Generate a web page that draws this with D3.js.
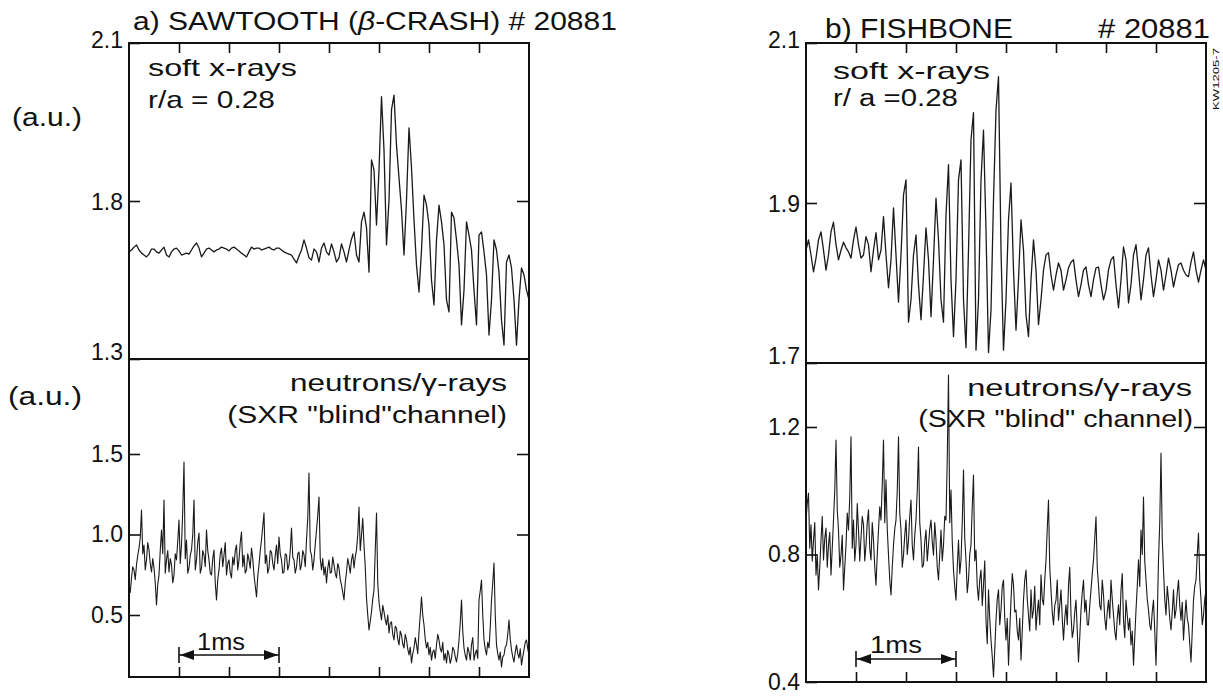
<!DOCTYPE html>
<html><head><meta charset="utf-8">
<script src="https://cdn.jsdelivr.net/npm/d3@7"></script>
<style>
body{margin:0;background:#fff}
svg{display:block}
text{font-family:"Liberation Sans",Arial,Helvetica,sans-serif;fill:#111}
</style>
</head><body>
<svg id="c" width="1223" height="697"></svg>
<script>
// ---------------- DATA ----------------
const sxrStep = 0.025;               // ms between soft x-ray samples
const neutStep = 0.0125;             // ms between neutron samples
const timeTicks = [0.5,1,1.5,2,2.5,3,3.5];
const scaleBar = [0.5,1.5];          // "1ms" bar, ms

// a) sawtooth: soft x-ray signal, r/a = 0.28 (a.u.)
const sxrSawtooth = [
1.639,1.645,1.654,1.661,1.645,1.635,1.629,1.623,1.632,1.648,
1.648,1.639,1.635,1.645,1.654,1.629,1.623,1.639,1.648,1.651,
1.642,1.629,1.632,1.635,1.632,1.645,1.658,1.667,1.651,1.623,
1.635,1.648,1.651,1.645,1.639,1.645,1.648,1.654,1.651,1.648,
1.642,1.651,1.654,1.648,1.642,1.635,1.629,1.623,1.639,1.654,
1.648,1.651,1.651,1.645,1.648,1.651,1.654,1.648,1.645,1.651,
1.651,1.645,1.639,1.635,1.632,1.629,1.616,1.604,1.626,1.645,
1.677,1.651,1.620,1.613,1.648,1.639,1.607,1.651,1.667,1.639,
1.629,1.664,1.639,1.607,1.620,1.664,1.639,1.607,1.645,1.680,
1.702,1.629,1.607,1.734,1.765,1.715,1.575,1.878,1.859,1.724,
1.859,1.998,1.897,1.661,1.802,1.973,2.001,1.906,1.844,1.772,
1.629,1.802,1.939,1.863,1.740,1.597,1.512,1.645,1.811,1.787,
1.724,1.550,1.471,1.677,1.787,1.734,1.661,1.487,1.449,1.765,
1.746,1.677,1.597,1.408,1.518,1.734,1.692,1.645,1.518,1.408,
1.692,1.702,1.639,1.566,1.376,1.487,1.677,1.645,1.575,1.423,
1.344,1.607,1.629,1.588,1.487,1.344,1.487,1.588,1.566,1.518,
1.487];

// a) sawtooth: neutrons / gamma-rays (SXR "blind" channel)
const neutSawtooth = [
0.686,0.640,0.730,0.800,0.780,0.720,0.811,0.870,0.916,0.980,1.152,0.880,0.935,0.780,0.842,0.950,0.904,0.820,0.767,0.850,
0.792,0.700,0.562,0.690,0.748,0.900,1.028,0.880,1.214,0.760,0.842,0.900,0.767,0.850,0.811,0.700,0.748,0.880,0.842,0.960,
1.090,0.820,0.935,1.150,1.450,0.850,0.966,0.760,0.792,0.870,0.904,1.000,1.214,0.780,0.842,0.950,1.009,0.760,0.792,0.900,
0.873,0.800,1.028,0.900,0.842,0.760,0.748,0.850,0.904,0.700,0.593,0.720,0.780,0.880,0.916,0.800,0.873,0.950,0.748,0.820,
0.842,0.760,0.730,0.860,0.811,0.900,0.935,0.780,0.842,0.950,1.016,0.800,0.873,0.760,0.780,0.880,0.842,0.790,0.916,0.850,
0.748,0.680,0.612,0.740,0.811,0.900,0.966,1.050,1.134,0.820,0.873,0.760,0.792,0.900,0.891,0.820,0.780,0.870,0.935,0.820,
0.984,0.880,0.842,0.760,0.767,0.880,0.873,0.780,0.811,0.900,1.040,0.860,0.842,0.760,0.798,0.880,0.891,0.780,0.811,0.900,
0.873,0.800,0.966,1.100,1.382,0.900,0.873,0.780,0.842,0.940,1.028,1.120,1.233,0.850,0.780,0.850,0.748,0.800,0.699,0.790,
0.842,0.760,0.767,0.860,0.811,0.760,0.730,0.820,0.792,0.720,0.686,0.640,0.593,0.700,0.767,0.850,0.811,0.760,0.842,0.880,
0.792,0.860,0.904,1.000,1.171,0.900,0.997,1.100,0.935,0.800,0.606,0.500,0.407,0.460,0.519,0.600,0.655,0.900,1.134,0.700,
0.581,0.520,0.469,0.560,0.519,0.470,0.438,0.500,0.388,0.450,0.457,0.380,0.345,0.430,0.419,0.350,0.314,0.400,0.376,0.320,
0.295,0.380,0.345,0.290,0.252,0.300,0.202,0.260,0.295,0.360,0.314,0.260,0.394,0.500,0.612,0.500,0.438,0.350,0.295,0.330,
0.252,0.300,0.220,0.270,0.283,0.230,0.314,0.380,0.345,0.290,0.270,0.330,0.220,0.260,0.202,0.280,0.252,0.200,0.233,0.300,
0.283,0.240,0.208,0.260,0.345,0.450,0.593,0.400,0.295,0.250,0.220,0.300,0.270,0.220,0.314,0.360,0.220,0.260,0.283,0.230,
0.593,0.650,0.717,0.500,0.345,0.290,0.252,0.330,0.295,0.420,0.593,0.700,0.823,0.500,0.314,0.260,0.220,0.270,0.177,0.240,
0.252,0.300,0.314,0.380,0.469,0.350,0.283,0.240,0.208,0.270,0.314,0.260,0.233,0.290,0.189,0.240,0.283,0.330,0.345,0.290,
0.252];

// b) fishbone: soft x-ray signal, r/a = 0.28 (a.u.)
const sxrFishbone = [
1.841,1.854,1.835,1.814,1.831,1.854,1.864,1.841,1.816,1.835,
1.864,1.876,1.848,1.829,1.841,1.851,1.844,1.839,1.831,1.854,
1.870,1.848,1.831,1.835,1.858,1.848,1.814,1.841,1.863,1.829,
1.841,1.883,1.835,1.794,1.829,1.894,1.835,1.776,1.835,1.910,
1.929,1.751,1.779,1.835,1.860,1.798,1.754,1.810,1.869,1.829,
1.758,1.829,1.906,1.854,1.779,1.751,1.885,1.948,1.804,1.733,
1.804,1.929,1.954,1.779,1.719,1.841,1.979,2.013,1.716,1.779,
1.929,1.991,1.866,1.713,1.766,1.904,2.016,2.058,1.841,1.716,
1.779,1.879,1.925,1.816,1.741,1.804,1.879,1.841,1.760,1.733,
1.804,1.854,1.816,1.748,1.779,1.816,1.835,1.838,1.810,1.791,
1.810,1.825,1.816,1.791,1.804,1.819,1.826,1.829,1.804,1.783,
1.798,1.816,1.820,1.798,1.783,1.804,1.819,1.820,1.798,1.779,
1.791,1.816,1.829,1.833,1.798,1.769,1.804,1.845,1.829,1.775,
1.798,1.835,1.848,1.816,1.779,1.804,1.835,1.844,1.810,1.783,
1.804,1.829,1.816,1.791,1.810,1.831,1.816,1.795,1.810,1.823,
1.825,1.816,1.810,1.808,1.826,1.839,1.816,1.801,1.816,1.829,
1.816];

// b) fishbone: neutrons / gamma-rays (SXR "blind" channel)
const neutFishbone = [
0.908,0.960,0.993,0.820,0.893,0.780,0.845,0.900,0.736,0.800,0.689,0.760,0.845,0.920,0.783,0.850,0.883,0.760,0.830,0.870,
0.736,0.820,0.908,1.000,1.159,0.940,0.877,0.760,0.798,0.860,0.689,0.760,0.830,0.930,0.877,0.980,1.169,0.820,0.908,0.780,
0.830,0.960,0.877,0.780,0.852,0.920,0.893,0.780,0.830,0.900,0.940,0.820,0.783,0.900,0.845,0.760,0.704,0.800,0.877,0.950,
0.908,1.020,1.159,0.900,1.034,0.880,0.798,0.720,0.673,0.760,0.830,0.880,0.908,1.000,1.169,0.930,0.877,0.760,0.798,0.860,
0.908,0.800,0.845,0.920,0.971,0.830,0.783,0.860,0.908,1.000,1.137,0.900,0.845,0.760,0.767,0.840,0.877,0.780,0.830,0.880,
0.908,0.840,0.798,0.900,0.845,0.760,0.720,0.800,0.877,0.780,0.830,0.920,0.908,1.100,1.363,0.900,1.002,0.840,0.751,0.700,
0.657,0.760,0.845,0.740,0.783,0.900,1.065,0.850,0.783,0.680,0.720,0.800,0.830,0.950,1.049,0.780,0.814,0.700,0.657,0.720,
0.751,0.640,0.704,0.780,0.594,0.520,0.689,0.600,0.532,0.480,0.416,0.500,0.594,0.660,0.689,0.580,0.626,0.700,0.720,0.600,
0.532,0.600,0.453,0.560,0.657,0.740,0.704,0.620,0.626,0.560,0.532,0.600,0.469,0.560,0.657,0.720,0.751,0.660,0.610,0.560,
0.689,0.600,0.626,0.700,0.563,0.620,0.657,0.580,0.736,0.660,0.642,0.720,0.783,0.880,0.971,0.760,0.689,0.620,0.579,0.640,
0.657,0.720,0.594,0.640,0.689,0.600,0.532,0.600,0.642,0.580,0.704,0.760,0.610,0.540,0.563,0.620,0.657,0.560,0.463,0.540,
0.626,0.680,0.720,0.620,0.657,0.580,0.579,0.640,0.689,0.740,0.783,0.850,0.918,0.760,0.704,0.640,0.626,0.720,0.673,0.600,
0.563,0.620,0.657,0.600,0.720,0.660,0.610,0.560,0.532,0.600,0.642,0.580,0.689,0.740,0.594,0.540,0.657,0.610,0.563,0.600,
0.516,0.560,0.453,0.540,0.626,0.700,0.783,0.700,0.877,0.800,0.980,0.780,0.720,0.660,0.626,0.580,0.563,0.620,0.657,0.560,
0.453,0.600,0.783,0.900,1.118,0.850,0.751,0.660,0.610,0.700,0.657,0.600,0.563,0.620,0.689,0.600,0.626,0.680,0.720,0.640,
0.594,0.650,0.532,0.600,0.657,0.600,0.579,0.520,0.463,0.560,0.657,0.700,0.720,0.800,0.867,0.720,0.657,0.580,0.610,0.660,
0.689];

// y-axis tick values (left) and inner ticks on the right
const sawUpperTicks = [1.3,1.8,2.1];
const sawLowerTicks = [0.5,1.0,1.5];
const fishUpperTicks = [1.7,1.9,2.1];
const fishLowerTicks = [0.4,0.8,1.2];
const sawUpperRight = [1.8];
const sawLowerRight = [1.0,1.5];
const fishUpperRight = [1.9];
const fishLowerRight = [0.8,1.2];

// ---------------- DRAWING ----------------
const svg = d3.select("#c");
const FONT = '"Liberation Sans",Arial,Helvetica,sans-serif';

function put(build, x, y, size, opt = {}) {
  const t = svg.append("text")
    .attr("font-size", size)
    .attr("text-anchor", opt.anchor || "start");
  if (typeof build === "string") t.text(build); else build(t);
  let sx = 1;
  if (opt.width) sx = opt.width / t.node().getComputedTextLength();
  t.attr("transform", `translate(${x},${y})${opt.rotate ? ` rotate(${opt.rotate})` : ""} scale(${sx},1)`);
  return t;
}

const panels = [
  { x: d3.scaleLinear([0,4],[129,529]),
    yU: d3.scaleLinear([1.3,1.8,2.1],[359,201,43]),
    yL: d3.scaleLinear([0.5,1.5],[615,454]),
    top: 43, mid: 359, bot: 677,
    sxr: sxrSawtooth, neut: neutSawtooth,
    uT: sawUpperTicks, lT: sawLowerTicks, uR: sawUpperRight, lR: sawLowerRight,
    barY: 655, id: "a" },
  { x: d3.scaleLinear([0,4],[806,1206]),
    yU: d3.scaleLinear([1.7,2.1],[363,43]),
    yL: d3.scaleLinear([0.4,1.2],[682,427]),
    top: 43, mid: 363, bot: 682,
    sxr: sxrFishbone, neut: neutFishbone,
    uT: fishUpperTicks, lT: fishLowerTicks, uR: fishUpperRight, lR: fishLowerRight,
    barY: 659, id: "b" }
];

const defs = svg.append("defs");

panels.forEach(p => {
  const [x0, x1] = p.x.range();

  defs.append("clipPath").attr("id", "cu" + p.id).append("rect")
    .attr("x", x0).attr("y", p.top).attr("width", x1 - x0).attr("height", p.mid - p.top);
  defs.append("clipPath").attr("id", "cl" + p.id).append("rect")
    .attr("x", x0).attr("y", p.mid).attr("width", x1 - x0).attr("height", p.bot - p.mid);

  const lineU = d3.line().x((d, i) => p.x(i * sxrStep)).y(d => p.yU(d));
  const lineL = d3.line().x((d, i) => p.x(i * neutStep)).y(d => p.yL(d));
  svg.append("path").datum(p.sxr).attr("d", lineU)
    .attr("clip-path", `url(#cu${p.id})`)
    .attr("fill", "none").attr("stroke", "#1a1a1a").attr("stroke-width", 1.3)
    .attr("stroke-linejoin", "round");
  svg.append("path").datum(p.neut).attr("d", lineL)
    .attr("clip-path", `url(#cl${p.id})`)
    .attr("fill", "none").attr("stroke", "#1a1a1a").attr("stroke-width", 1.1)
    .attr("stroke-linejoin", "round");

  const frame = svg.append("g").attr("stroke", "#111").attr("stroke-width", 2).attr("fill", "none");
  frame.append("rect").attr("x", x0).attr("y", p.top).attr("width", x1 - x0).attr("height", p.bot - p.top);
  frame.append("line").attr("x1", x0).attr("x2", x1).attr("y1", p.mid).attr("y2", p.mid);

  const styleAxis = g => {
    g.select(".domain").remove();
    g.attr("font-size", 23).attr("font-family", FONT);
    g.selectAll(".tick line").attr("stroke", "#111").attr("stroke-width", 1.6);
    g.selectAll(".tick text").attr("fill", "#111");
  };

  svg.append("g").attr("transform", `translate(0,${p.top})`)
    .call(d3.axisBottom(p.x).tickValues(timeTicks).tickSize(10).tickFormat("")).call(styleAxis);
  svg.append("g").attr("transform", `translate(0,${p.bot})`)
    .call(d3.axisTop(p.x).tickValues(timeTicks).tickSize(10).tickFormat("")).call(styleAxis);

  const topV = p.uT[p.uT.length - 1], midV = p.uT[0];
  const gU = svg.append("g").attr("transform", `translate(${x0},0)`)
    .call(d3.axisLeft(p.yU).tickValues(p.uT).tickSize(-11).tickPadding(6).tickFormat(d3.format(".1f")))
    .call(styleAxis);
  gU.selectAll(".tick text").attr("dy", d => d === topV ? "0.2em" : d === midV ? "0em" : "0.35em");
  svg.append("g").attr("transform", `translate(${x0},0)`)
    .call(d3.axisLeft(p.yL).tickValues(p.lT).tickSize(-11).tickPadding(6).tickFormat(d3.format(".1f")))
    .call(styleAxis);

  svg.append("g").attr("transform", `translate(${x1},0)`)
    .call(d3.axisLeft(p.yU).tickValues(p.uR).tickSize(12).tickFormat("")).call(styleAxis);
  svg.append("g").attr("transform", `translate(${x1},0)`)
    .call(d3.axisLeft(p.yL).tickValues(p.lR).tickSize(12).tickFormat("")).call(styleAxis);

  const bx0 = p.x(scaleBar[0]), bx1 = p.x(scaleBar[1]), by = p.barY;
  const bar = svg.append("g").attr("stroke", "#111").attr("stroke-width", 1.6);
  bar.append("line").attr("x1", bx0).attr("x2", bx1).attr("y1", by).attr("y2", by);
  bar.append("line").attr("x1", bx0).attr("x2", bx0).attr("y1", by - 8).attr("y2", by + 8);
  bar.append("line").attr("x1", bx1).attr("x2", bx1).attr("y1", by - 8).attr("y2", by + 8);
  svg.append("path").attr("fill", "#111")
    .attr("d", `M${bx0 + 1},${by} L${bx0 + 15},${by - 5} L${bx0 + 15},${by + 5} Z M${bx1 - 1},${by} L${bx1 - 15},${by - 5} L${bx1 - 15},${by + 5} Z`);
});

// ---------------- TEXT ----------------
put(t => {
  t.append("tspan").text("a) SAWTOOTH (");
  t.append("tspan").attr("font-style", "italic").text("β");
  t.append("tspan").text("-CRASH) # 20881");
}, 133, 30, 25, { width: 484 });
put("b) FISHBONE", 825, 38, 27, { width: 188 });
put("# 20881", 1210, 38, 27, { anchor: "end", width: 112 });

put("(a.u.)", 12, 126, 26, { width: 70 });
put("(a.u.)", 8, 405, 26, { width: 74 });

put("soft x-rays", 148, 76, 24, { width: 149 });
put("r/a = 0.28", 148, 108, 24, { width: 127 });
put("soft x-rays", 833, 79, 23, { width: 157 });
put("r/ a =0.28", 833, 106, 23, { width: 125 });

put(t => { t.append("tspan").text("neutrons/"); t.append("tspan").text("γ"); t.append("tspan").text("-rays"); },
    507, 391, 24, { anchor: "end", width: 217 });
put('(SXR  "blind"channel)', 507, 423, 24, { anchor: "end", width: 280 });
put(t => { t.append("tspan").text("neutrons/"); t.append("tspan").text("γ"); t.append("tspan").text("-rays"); },
    1192, 396, 24, { anchor: "end", width: 225 });
put('(SXR "blind" channel)', 1193, 427, 24, { anchor: "end", width: 275 });

put("1ms", 221, 650, 24, { anchor: "middle", width: 48 });
put("1ms", 896, 653, 24, { anchor: "middle", width: 52 });

put("KW1205-7", 1219, 110, 9, { rotate: -90, width: 62 });
</script>
</body></html>
